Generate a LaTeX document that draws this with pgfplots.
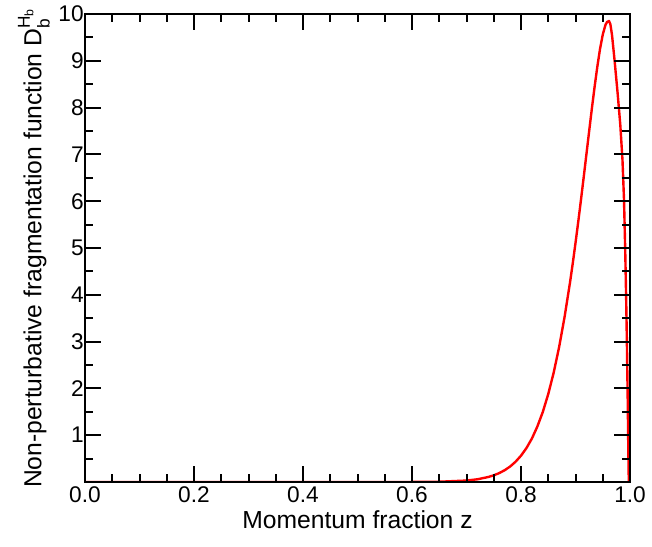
\documentclass[border=0pt]{standalone}
\usepackage{fontspec}
\setmainfont{Liberation Sans}
\usepackage{amsmath}
\usepackage{pgfplots}
\pgfplotsset{compat=1.18}
\pgfplotstableread{
z y
0 0
0.5 0
0.6 0.001
0.65 0.006
0.7 0.031
0.72 0.058
0.74 0.107
0.75 0.143
0.76 0.19
0.77 0.252
0.78 0.33
0.79 0.433
0.8 0.562
0.81 0.725
0.82 0.929
0.83 1.185
0.84 1.497
0.85 1.879
0.86 2.339
0.87 2.887
0.88 3.53
0.89 4.27
0.895 4.677
0.9 5.107
0.905 5.558
0.91 6.026
0.915 6.510
0.92 7.0
0.925 7.492
0.93 7.977
0.935 8.440
0.94 8.872
0.945 9.253
0.95 9.559
0.955 9.769
0.958 9.83
0.9615 9.85
0.964 9.78
0.967 9.55
0.9716 9.02
0.9771 8.33
0.9822 7.63
0.9862 6.88
0.989 6.03
0.9912 4.96
0.993 3.89
0.9945 2.82
0.9958 1.75
0.9969 0.68
0.9978 0
1 0
}\fragdata
\begin{document}
\begin{tikzpicture}
\begin{axis}[name=ax, scale only axis, width=408.75pt, height=351pt,
 xmin=0, xmax=1, ymin=0, ymax=10,
 xtick={0,0.2,0.4,0.6,0.8,1}, minor x tick num=3,
 ytick={1,2,3,4,5,6,7,8,9,10}, minor ytick={0.5,1.5,2.5,3.5,4.5,5.5,6.5,7.5,8.5,9.5},
 tick align=inside, major tick length=11.75pt, minor tick length=5.75pt,
 every tick/.style={black, line width=1.5pt},
 axis line style={line width=1.8pt},
 xticklabel style={/pgf/number format/.cd, fixed, fixed zerofill, precision=1},
 yticklabel style={xshift=2.5pt},
 /pgf/number format/assume math mode=true,
 tick label style={font=\fontsize{17}{20}\selectfont},
 label style={font=\fontsize{18.5}{22}\selectfont},
 xlabel={Momentum fraction z},
 ylabel={Non-perturbative fragmentation function D$_{\text{b}}^{\text{H}_{\text{b}}}$},
 xlabel style={at={(axis description cs:0.5,-0.1)}, anchor=base},
 ylabel style={at={(axis description cs:-0.0936,0.5)}, anchor=center},
 axis on top,
]
\addplot[red, line width=1.8pt, line join=round] table[x=z, y=y] {\fragdata};
\end{axis}
\pgfresetboundingbox
\path ([xshift=-63.75pt,yshift=-48pt]ax.south west) rectangle ([xshift=16.5pt,yshift=10.5pt]ax.north east);
\end{tikzpicture}
\end{document}
